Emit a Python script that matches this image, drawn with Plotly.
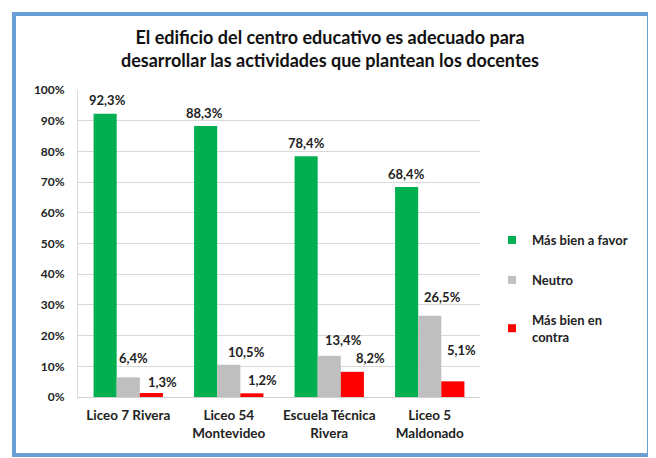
import plotly.graph_objects as go

categories = ["Liceo 7 Rivera", "Liceo 54<br>Montevideo", "Escuela Técnica<br>Rivera", "Liceo 5<br>Maldonado"]
series_names = ["Más bien a favor", "Neutro", "Más bien en<br>contra"]
favor = [92.3, 88.3, 78.4, 68.4]
neutro = [6.4, 10.5, 13.4, 26.5]
contra = [1.3, 1.2, 8.2, 5.1]
colors = ["#00b050", "#bfbfbf", "#ff0000"]
tick_vals = [0, 10, 20, 30, 40, 50, 60, 70, 80, 90, 100]
tick_text = [f"{v}%" for v in tick_vals]

# label placement offsets (pixels), as positioned in the original
label_dx = [[2, -1, 0, 0], [5, 18, 14, 13], [11, 11, 18, 9]]
label_dy = [[14, 13, 13, 13], [19, 13, 16, 19], [11, 13, 14, 31]]

# the page body adds an 8px offset; work in page pixels and subtract it
OFF = 8
W, H = 656 - OFF, 458 - OFF
L, R, T, B = 78 - OFF, 480 - OFF, 90 - OFF, 397 - OFF
BARGAP = 0.31

def px_x(x):
    return (x - OFF - L) / (R - L)

def px_y(y):
    return (B - (y - OFF)) / (B - T)

FONT = "Lato"
fig = go.Figure()
series = [favor, neutro, contra]
for i, (name, vals) in enumerate(zip(series_names, series)):
    fig.add_trace(go.Bar(
        x=categories, y=vals, name=name, showlegend=False,
        marker=dict(color=colors[i], line=dict(width=0)),
    ))
    # legend entry with a small square marker
    fig.add_trace(go.Scatter(
        x=[None], y=[None], mode="markers", name=name,
        marker=dict(symbol="square", size=8, color=colors[i]),
        legendgroup=str(i),
    ))

cat_w = (R - L) / len(categories)
bar_w = cat_w * (1 - BARGAP) / len(series)
for i, vals in enumerate(series):
    for j, (cat, v) in enumerate(zip(categories, vals)):
        fig.add_annotation(
            x=cat, y=v, xref="x", yref="y",
            text=f"{v:.1f}%".replace(".", ","), showarrow=False,
            xanchor="center", yanchor="middle",
            xshift=(i - 1) * bar_w + label_dx[i][j], yshift=label_dy[i][j],
            font=dict(size=13, color="#222222", family=FONT, weight="bold"),
        )

fig.update_layout(
    width=W, height=H,
    separators=",.",
    barmode="group", bargap=BARGAP, bargroupgap=0,
    paper_bgcolor="white", plot_bgcolor="white",
    margin=dict(l=L, r=W - R, t=T, b=H - B, autoexpand=False),
    font=dict(family=FONT, color="#222222"),
    title=dict(
        text="<b>El edificio del centro educativo es adecuado para<br>desarrollar las actividades que plantean los docentes</b>",
        x=px_x(330), xref="paper", xanchor="center",
        y=1 - (44 - OFF) / H, yanchor="top", yref="container",
        font=dict(size=18, family=FONT, color="#111111"),
    ),
    xaxis=dict(
        showline=True, linecolor="#d0d0d0", mirror=False,
        tickfont=dict(size=13.5, family=FONT, color="#222222", weight="bold"),
        ticks="", showgrid=False, automargin=False, ticklabelstandoff=6,
    ),
    yaxis=dict(
        range=[0, 100], tickmode="array", tickvals=tick_vals, ticktext=tick_text,
        showgrid=True, gridcolor="#d9d9d9", gridwidth=1,
        showline=True, linecolor="#dcdcdc", mirror=False,
        tickfont=dict(size=12, family=FONT, color="#222222", weight="bold"),
        zeroline=False, ticks="", automargin=False, ticklabelstandoff=10,
    ),
    legend=dict(
        x=px_x(492), xanchor="left", y=px_y(225), yanchor="top",
        font=dict(size=13, family=FONT, color="#222222", weight="bold"),
        tracegroupgap=20, itemwidth=30, bgcolor="rgba(0,0,0,0)",
    ),
    showlegend=True,
)

fig.add_shape(
    type="rect", xref="paper", yref="paper",
    x0=px_x(14), x1=px_x(649), y0=px_y(455), y1=px_y(14),
    line=dict(color="#6a9fd6", width=4), fillcolor="rgba(0,0,0,0)", layer="below",
)

fig.write_html("out.html")
